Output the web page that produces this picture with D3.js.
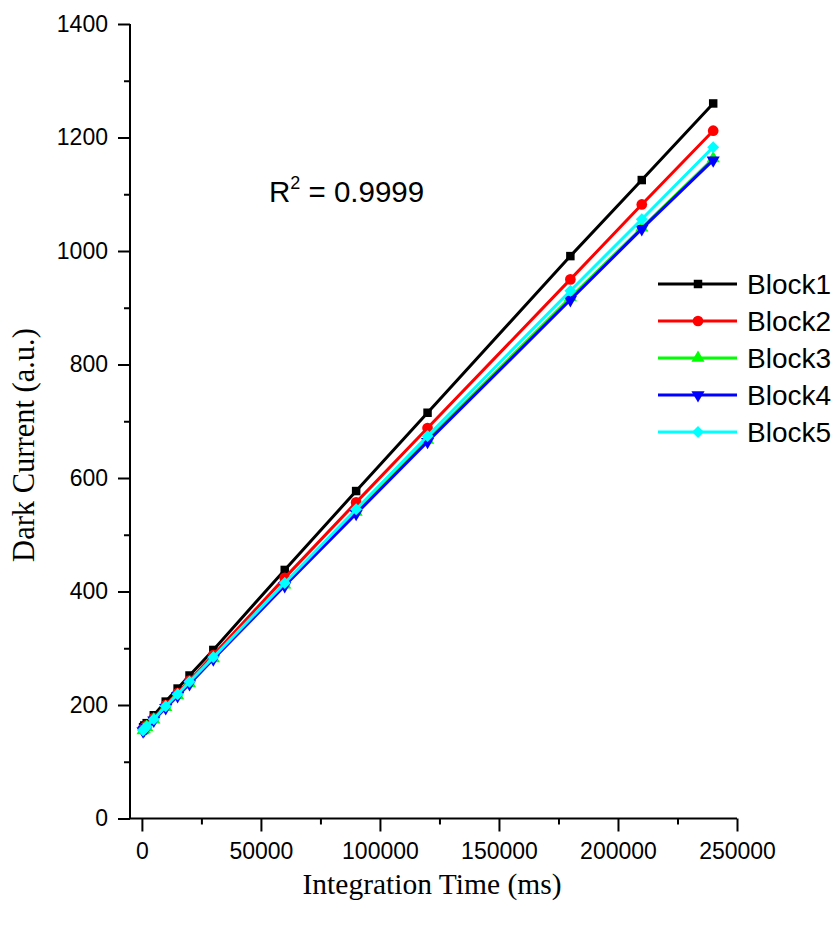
<!DOCTYPE html>
<html>
<head>
<meta charset="utf-8">
<script src="https://cdn.jsdelivr.net/npm/d3@7"></script>
<style>
  body { margin: 0; background: #fff; }
  svg { display: block; }
  .tick text { font-family: "Liberation Sans", Arial, sans-serif; }
</style>
</head>
<body>
<svg id="chart" width="838" height="926"></svg>
<script>
// integration time (ms)
const times = [500, 1000, 2000, 5000, 10000, 15000, 20000, 30000, 60000, 90000, 120000, 180000, 210000, 240000]
// dark current per block (a.u.)
const block1 = [161, 164, 168, 182, 206, 229, 252, 297, 438, 577, 715, 991, 1125, 1260]
const block2 = [158, 160, 164, 177, 200, 221, 243, 288, 424, 557, 688, 950, 1082, 1212]
const block3 = [155, 157, 161, 174, 196, 217, 238, 282, 412, 540, 667, 918, 1041, 1163]
const block4 = [154, 156, 160, 173, 195, 216, 237, 281, 410, 537, 664, 914, 1039, 1160]
const block5 = [155, 158, 162, 175, 198, 219, 241, 284, 415, 545, 674, 930, 1056, 1183]
const seriesNames = ['Block1', 'Block2', 'Block3', 'Block4', 'Block5']
const xTicks = [0, 50000, 100000, 150000, 200000, 250000]
const yTicks = [0, 200, 400, 600, 800, 1000, 1200, 1400]
const rSquared = '0.9999'

const colors = ['#000000', '#ff0000', '#00ff00', '#0000ff', '#00ffff']
const shapes = ['square', 'circle', 'up', 'down', 'diamond']
const values = [block1, block2, block3, block4, block5]

let svg = d3.select('#chart')
let margin = {top: 24, left: 130}
let width = 607
let height = 794.5

let x = d3.scaleLinear().domain([-5000, 250000]).range([0, width])
let y = d3.scaleLinear().domain([0, 1400]).range([height, 0])

let g = svg.append('g')
  .attr('transform', 'translate(' + margin.left + ',' + margin.top + ')')

// minor ticks first, then major axes on top
g.append('g')
  .attr('transform', 'translate(0,' + height + ')')
  .call(d3.axisBottom(x).tickValues(d3.range(25000, 250000, 50000)).tickSize(6).tickFormat(''))
g.append('g')
  .call(d3.axisLeft(y).tickValues(d3.range(100, 1400, 200)).tickSize(6).tickFormat(''))

g.append('g')
  .attr('transform', 'translate(0,' + height + ')')
  .call(d3.axisBottom(x).tickValues(xTicks).tickSize(13).tickPadding(11).tickFormat(d3.format('d')))
g.append('g')
  .call(d3.axisLeft(y).tickValues(yTicks).tickSize(12).tickPadding(10).tickFormat(d3.format('d')))

g.selectAll('.domain').attr('d', null)
g.selectAll('.tick line').attr('stroke-width', 2)
g.selectAll('.tick text').attr('font-size', 23).attr('fill', '#000')

// axis lines
g.append('line').attr('x1', 0).attr('x2', 0).attr('y1', y(1400)).attr('y2', height)
  .attr('stroke', '#000').attr('stroke-width', 2)
g.append('line').attr('x1', 0).attr('x2', x(250000)).attr('y1', height).attr('y2', height)
  .attr('stroke', '#000').attr('stroke-width', 2)

function symbolFor (shape) {
  let sym = d3.symbol()
  if (shape === 'square') return {d: sym.type(d3.symbolSquare).size(72)(), rot: 0}
  if (shape === 'circle') return {d: sym.type(d3.symbolCircle).size(90)(), rot: 0}
  if (shape === 'up') return {d: sym.type(d3.symbolTriangle).size(75)(), rot: 0}
  if (shape === 'down') return {d: sym.type(d3.symbolTriangle).size(75)(), rot: 180}
  return {d: sym.type(d3.symbolSquare).size(72)(), rot: 45}
}

let line = d3.line()
  .x((d) => x(d.x))
  .y((d) => y(d.y))

values.forEach(function (vals, i) {
  let data = times.map((t, j) => ({x: t, y: vals[j]}))
  let s = g.append('g')
  s.append('path').datum(data)
    .attr('fill', 'none')
    .attr('stroke', colors[i])
    .attr('stroke-width', 3)
    .attr('d', line)
  let sym = symbolFor(shapes[i])
  s.selectAll('path.pt').data(data).enter().append('path')
    .attr('class', 'pt')
    .attr('d', sym.d)
    .attr('fill', colors[i])
    .attr('transform', (d) => 'translate(' + x(d.x) + ',' + y(d.y) + ') rotate(' + sym.rot + ')')
})

// legend
let legend = svg.append('g').attr('transform', 'translate(658,284)')
seriesNames.forEach(function (name, i) {
  let row = legend.append('g').attr('transform', 'translate(0,' + (i * 37) + ')')
  row.append('line').attr('x1', 0).attr('x2', 79).attr('y1', 0).attr('y2', 0)
    .attr('stroke', colors[i]).attr('stroke-width', 3)
  let sym = symbolFor(shapes[i])
  row.append('path').attr('d', sym.d).attr('fill', colors[i])
    .attr('transform', 'translate(40,0) rotate(' + sym.rot + ')')
  row.append('text')
    .attr('x', 89).attr('y', 10)
    .attr('font-family', '"Liberation Sans", Arial, sans-serif')
    .attr('font-size', 28)
    .text(name)
})

// R squared annotation
let rt = svg.append('text')
  .attr('x', 269).attr('y', 202)
  .attr('font-family', '"Liberation Sans", Arial, sans-serif')
  .attr('font-size', 29.5)
rt.append('tspan').text('R')
rt.append('tspan').attr('font-size', 18).attr('dy', -13).text('2')
rt.append('tspan').attr('dy', 13).text(' = ' + rSquared)

// axis titles
svg.append('text')
  .attr('x', 432).attr('y', 894)
  .attr('text-anchor', 'middle')
  .attr('font-family', '"Liberation Serif", "Times New Roman", serif')
  .attr('font-size', 29.5)
  .text('Integration Time (ms)')

svg.append('text')
  .attr('transform', 'translate(34,445) rotate(-90)')
  .attr('text-anchor', 'middle')
  .attr('font-family', '"Liberation Serif", "Times New Roman", serif')
  .attr('font-size', 30.5)
  .text('Dark Current (a.u.)')
</script>
</body>
</html>
